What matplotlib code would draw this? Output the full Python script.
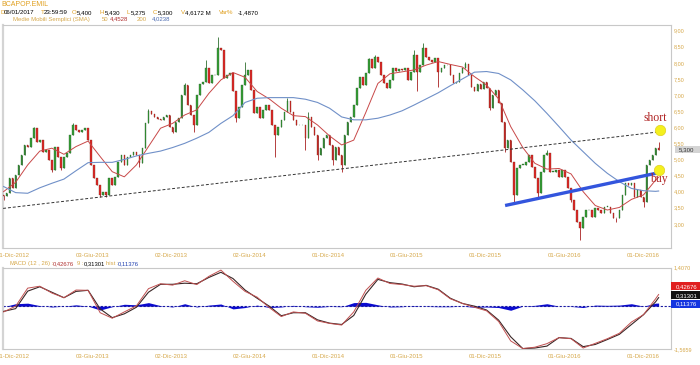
import matplotlib
matplotlib.use('Agg')
import matplotlib.pyplot as plt
import matplotlib.dates as mdates
import matplotlib.patches as mpatches
import numpy as np
import pandas as pd

# ---------------- data ----------------
start_week = '2012-11-09'
closes = [3.85, 3.95, 4.41, 4.10, 4.52, 4.83, 5.14, 5.45, 5.40, 5.66,
          5.97, 5.55, 5.60, 5.24, 5.29, 4.98, 4.67, 5.40, 5.09, 4.72,
          5.09, 5.19, 5.76, 6.07, 5.92, 5.86, 5.92, 5.97, 5.60, 4.83,
          4.41, 4.21, 3.90, 4.00, 3.90, 4.41, 4.21, 4.47, 4.93, 5.14,
          4.83, 5.09, 5.14, 5.24, 5.14, 4.88, 5.35, 6.12, 6.51, 6.40,
          6.33, 6.26, 6.23, 6.33, 6.38, 6.02, 5.86, 6.17, 6.30, 7.00,
          7.31, 6.69, 6.38, 6.07, 7.00, 7.33, 7.40, 7.83, 7.36, 7.62,
          7.62, 8.45, 8.40, 7.52, 7.62, 7.67, 7.11, 6.28, 6.64, 7.31,
          7.62, 7.78, 7.16, 6.43, 6.64, 6.28, 6.54, 6.69, 6.54, 6.07,
          5.76, 6.02, 6.23, 6.48, 6.80, 6.48, 6.23, 6.07, 6.07, 6.07,
          5.66, 6.33, 6.02, 5.76, 5.14, 5.35, 5.66, 5.76, 5.45, 4.98,
          5.40, 5.14, 4.83, 5.76, 6.15, 6.33, 6.69, 7.21, 7.57, 7.31,
          7.67, 8.12, 7.83, 8.19, 8.02, 7.62, 7.36, 7.21, 7.47, 7.85,
          7.75, 7.81, 7.78, 7.83, 7.47, 7.73, 8.24, 7.73, 7.93, 8.45,
          8.19, 8.09, 8.04, 8.14, 7.73, 7.83, 7.93, 7.93, 7.62, 7.36,
          7.42, 7.67, 7.83, 7.95, 7.62, 7.26, 7.11, 7.33, 7.19, 7.40,
          7.21, 6.59, 7.00, 7.16, 6.74, 6.17, 5.35, 5.60, 4.93, 3.90,
          4.72, 4.83, 4.83, 4.93, 5.14, 4.78, 4.41, 3.95, 4.62, 5.14,
          5.19, 4.62, 4.62, 4.67, 4.47, 4.67, 4.47, 4.10, 3.74, 3.43,
          3.07, 2.86, 3.22, 3.43, 3.43, 3.22, 3.48, 3.43, 3.33, 3.53,
          3.53, 3.33, 3.19, 3.17, 3.43, 3.90, 4.26, 4.21, 4.26, 3.84,
          4.05, 3.84, 3.69, 4.83, 4.98, 5.14, 5.35, 5.30]
first_open = 3.90
high_spikes = {10: 6.02, 23: 6.12, 48: 6.57, 60: 7.36, 67: 8.09, 71: 8.81,
               80: 8.04, 94: 6.90, 101: 6.48, 121: 8.14, 123: 8.24, 136: 8.40,
               139: 8.61, 153: 8.04, 180: 5.30, 217: 5.55}
low_spikes = {0: 3.75, 16: 4.62, 19: 4.67, 32: 3.84, 34: 3.84, 45: 4.78,
              56: 5.81, 63: 5.86, 77: 6.17, 90: 5.09, 100: 5.29, 104: 4.98,
              109: 4.83, 112: 4.62, 137: 7.11, 144: 7.26, 161: 6.54, 166: 5.24,
              169: 3.69, 177: 3.79, 188: 3.69, 191: 2.50, 203: 3.07, 212: 3.53}

ma_weeks = list(range(0, 217, 4)) + [217]
sma50 = [4.00, 4.29, 4.83, 5.26, 5.35, 5.16, 5.40, 5.57, 5.09, 4.62,
         4.46, 4.83, 5.40, 5.97, 6.12, 6.38, 6.54, 7.05, 7.47, 7.70,
         7.55, 7.11, 6.88, 6.59, 6.36, 6.33, 6.07, 5.73, 5.45, 5.60,
         6.46, 7.36, 7.66, 7.72, 7.78, 7.93, 8.04, 7.95, 7.87, 7.57,
         7.31, 6.88, 6.02, 5.37, 4.88, 4.70, 4.72, 4.55, 4.00, 3.57,
         3.43, 3.51, 3.76, 3.90, 4.36, 4.45]
sma200 = [4.16, 3.97, 3.95, 4.12, 4.26, 4.39, 4.65, 4.90, 4.91, 4.91,
          5.00, 5.11, 5.19, 5.26, 5.37, 5.50, 5.66, 5.84, 6.12, 6.36,
          6.77, 6.90, 6.92, 6.92, 6.92, 6.87, 6.77, 6.59, 6.32, 6.23,
          6.23, 6.28, 6.38, 6.51, 6.69, 6.88, 7.07, 7.29, 7.50, 7.71,
          7.73, 7.67, 7.47, 7.16, 6.82, 6.43, 6.02, 5.60, 5.24, 4.88,
          4.57, 4.31, 4.10, 4.03, 4.01, 4.02]
macd = [-0.21, 0.00, 0.66, 0.73, 0.48, 0.31, 0.59, 0.58, -0.24, -0.44,
        -0.21, 0.01, 0.64, 0.82, 0.77, 0.93, 0.79, 1.09, 1.32, 0.91,
        0.54, 0.33, -0.05, -0.38, -0.21, -0.26, -0.54, -0.63, -0.69, -0.21,
        0.58, 1.03, 0.83, 0.79, 0.73, 0.75, 0.60, 0.27, 0.10, -0.04,
        -0.17, -0.56, -1.27, -1.55, -1.50, -1.37, -1.15, -1.19, -1.53, -1.36,
        -1.19, -0.99, -0.58, -0.31, 0.27, 0.427]
hist = [-0.02, 0.09, 0.11, 0.02, -0.03, 0.00, 0.05, 0.00, -0.14, -0.02,
        0.07, 0.05, 0.13, 0.02, -0.03, 0.09, -0.03, 0.04, 0.08, -0.10,
        -0.05, 0.04, -0.05, -0.03, 0.03, -0.02, -0.04, -0.01, -0.02, 0.13,
        0.14, 0.05, -0.03, -0.02, 0.02, -0.01, -0.02, -0.02, 0.00, -0.04,
        -0.03, -0.05, -0.15, 0.00, 0.03, 0.09, 0.00, -0.01, -0.05, 0.04,
        0.03, 0.04, 0.09, 0.00, 0.11, 0.114]

trend_dates = ['2012-11-08', '2017-01-09']
trend_prices = [3.48, 5.86]
support_dates = ['2016-01-16', '2017-01-17']
support_prices = [3.57, 4.62]
marker_dates = ['2017-01-09', '2017-01-07']
marker_prices = [5.91, 4.67]
note_dates = ['2016-12-29', '2017-01-06']
note_prices = [6.30, 4.39]
note_texts = ['short', 'buy']

tick_dates = ['2012-12-01', '2013-06-03', '2013-12-02', '2014-06-02', '2014-12-01',
              '2015-06-01', '2015-12-01', '2016-06-01', '2016-12-01']
tick_labels = ['01-Dic-2012', '03-Giu-2013', '02-Dic-2013', '02-Giu-2014', '01-Dic-2014',
               '01-Giu-2015', '01-Dic-2015', '01-Giu-2016', '01-Dic-2016']
price_ticks = [3.0, 3.5, 4.0, 4.5, 5.0, 5.5, 6.0, 6.5, 7.0, 7.5, 8.0, 8.5, 9.0]
last_price = 5.300
macd_last, signal_last, hist_last = 0.42676, 0.31301, 0.11376
macd_range = (-1.5659, 1.4070)

# ---------------- figure ----------------
plt.rcParams['font.family'] = ['Liberation Sans', 'DejaVu Sans']
W, H = 700, 365
fig = plt.figure(figsize=(7, 3.65), dpi=100)
fig.patch.set_facecolor('white')

def fx(px):
    return px / W

def fy(py):
    return 1 - py / H

ax = fig.add_axes([fx(2.7), fy(247.7), fx(668.0), (247.7 - 24.5) / H])
ax2 = fig.add_axes([fx(2.7), fy(349.0), fx(668.0), (349.0 - 267.7) / H])

tan = '#d6a84a'
gold = '#e0a020'

dates = pd.date_range(start_week, periods=len(closes), freq='7D')
xs = mdates.date2num(dates)
c = np.array(closes)
o = np.array([first_open] + closes[:-1])
hi = np.array([max(o[i], c[i], high_spikes.get(i, -1)) for i in range(len(c))])
lo = np.array([min(o[i], c[i], low_spikes.get(i, 99)) for i in range(len(c))])
up = c >= o
wick_col = np.where(up, '#2f6f2f', '#a82020')
body_col = np.where(up, '#35a035', '#e02828')
edge_col = np.where(up, '#2a5a2a', '#7a2a1a')

ax.vlines(xs, lo, hi, colors=wick_col, lw=0.6, zorder=2)
ax.bar(xs, np.maximum(np.abs(c - o), 0.015), bottom=np.minimum(o, c), width=3.6,
       color=body_col, edgecolor=edge_col, lw=0.25, zorder=3)

ma_x = xs[ma_weeks]
ax.plot(ma_x, sma50, color='#c84848', lw=0.7, zorder=4)
ax.plot(ma_x, sma200, color='#7090c8', lw=0.8, zorder=4)

ax.plot(mdates.date2num(pd.to_datetime(trend_dates)), trend_prices, color='#333333',
        lw=0.7, dashes=(3, 2), zorder=5)
ax.plot(mdates.date2num(pd.to_datetime(support_dates)), support_prices, color='#3355dd',
        lw=2.4, zorder=5, solid_capstyle='butt')
ax.plot(mdates.date2num(pd.to_datetime(marker_dates)), marker_prices, 'o', ms=7.5,
        mfc='#f4f01e', mec='#e0d020', mew=0.5, zorder=6, clip_on=False)
for d, p, t in zip(note_dates, note_prices, note_texts):
    ax.text(mdates.date2num(pd.Timestamp(d)), p, t, ha='center', va='center',
            fontsize=8.5, family='Liberation Serif', color='#b02525', zorder=7,
            clip_on=False)

x0 = mdates.date2num(pd.Timestamp('2012-11-07'))
x1 = mdates.date2num(pd.Timestamp('2017-02-03'))
ax.set_xlim(x0, x1)
ax.set_ylim(2.26, 9.19)
ax.set_xticks(mdates.date2num(pd.to_datetime(tick_dates)))
ax.set_xticklabels(tick_labels)
ax.yaxis.tick_right()
ax.set_yticks(price_ticks)
ax.set_yticklabels([f'{v:.2f}'.replace('.', ',') for v in price_ticks])
ax.tick_params(axis='x', length=0, pad=3.5, labelsize=4.3, labelcolor=tan)
ax.tick_params(axis='y', length=0, pad=2.0, labelsize=4.0, labelcolor=tan)

# last price box
ax.add_patch(mpatches.Rectangle((1.006, last_price - 0.11), 0.04, 0.22,
                                transform=ax.get_yaxis_transform(), facecolor='#d4d4d4',
                                edgecolor='none', clip_on=False, zorder=1))
ax.text(1.012, last_price, f'{last_price:.3f}'.replace('.', ','), transform=ax.get_yaxis_transform(),
        ha='left', va='center', fontsize=4.4, color='#333333', clip_on=False)

for a in (ax, ax2):
    for s in a.spines.values():
        s.set_color('#c8c8c8')
        s.set_linewidth(0.8)
    a.spines['left'].set_linewidth(1.6)
    a.spines['left'].set_color('#d4d4d4')

# ---------------- MACD panel ----------------
m = np.array(macd)
hs = np.array(hist)
sig = m - hs
ax2.fill_between(ma_x, 0, hs, color='#0a0ad0', lw=0, zorder=2)
ax2.axhline(0, color='#1a1aa0', lw=0.8, dashes=(2, 1.5), zorder=2)
ax2.plot(ma_x, sig, color='#3a2626', lw=0.8, zorder=3)
ax2.plot(ma_x, m, color='#c05050', lw=0.7, zorder=4)
ax2.set_xlim(x0, x1)
ax2.set_ylim(*macd_range)
ax2.set_xticks(mdates.date2num(pd.to_datetime(tick_dates)))
ax2.set_xticklabels(tick_labels)
ax2.yaxis.tick_right()
ax2.set_yticks(list(macd_range))
ax2.set_yticklabels([f'{v:.4f}'.replace('.', ',') for v in macd_range])
ax2.tick_params(axis='x', length=0, pad=3.5, labelsize=4.3, labelcolor=tan)
ax2.tick_params(axis='y', length=0, pad=2.0, labelsize=4.0, labelcolor=tan)

for val, ypos, fc in [(macd_last, 0.727, '#e02020'), (signal_last, 0.398, '#111111'),
                      (hist_last, 0.091, '#1535e0')]:
    ax2.add_patch(mpatches.Rectangle((1.001, ypos - 0.15), 0.043, 0.30,
                                     transform=ax2.get_yaxis_transform(), facecolor=fc,
                                     edgecolor='none', clip_on=False, zorder=5))
    ax2.text(1.008, ypos, f'{val:.5f}'.replace('.', ','), transform=ax2.get_yaxis_transform(),
             ha='left', va='center', fontsize=4.3, color='white', clip_on=False, zorder=6)

# ---------------- header texts ----------------
def t(px, py, s, col, size=4.4):
    fig.text(fx(px), fy(py), s, color=col, fontsize=size, ha='left', va='center')

t(1, 4.5, 'BCAPOP.EMIL', gold, 5.0)
for px, s, col in [(0.5, 'D', gold), (4, '06/01/2017', 'black'), (40.5, 'T', gold),
                   (44, '23:59:59', 'black'), (72, 'O', gold), (76.5, '5,400', 'black'),
                   (100, 'H', gold), (104.5, '5,430', 'black'), (126.5, 'L', gold),
                   (130.5, '5,275', 'black'), (153, 'C', gold), (157.5, '5,300', 'black'),
                   (181, 'V', gold), (185, '4,6172 M', 'black'), (219, 'Var%', gold),
                   (238, '-1,4870', 'black')]:
    t(px, 12.8, s, col)
for px, s, col in [(13, 'Medie Mobili Semplici (SMA)', tan), (102, '50', tan),
                   (110, '4,4528', '#b03030'), (137, '200', tan), (152, '4,0238', '#4a6ab0')]:
    t(px, 19.2, s, col, 4.3)
for px, s, col in [(10, 'MACD', tan), (28, '(12 , 26) :', tan), (53, '0,42676', '#b03030'),
                   (77, '9 :', tan), (84, '0,31301', 'black'), (106, 'hist :', tan),
                   (118, '0,11376', '#2040b0')]:
    t(px, 263.8, s, col, 4.2)

fig.savefig('out.png', dpi=100, facecolor='white')
